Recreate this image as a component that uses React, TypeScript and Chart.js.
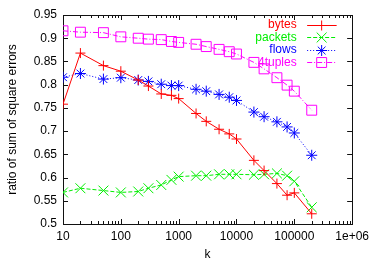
import React, { useEffect, useRef } from "react";
import { Chart, registerables } from "chart.js";
import { drawPoint } from "chart.js/helpers";

Chart.register(...registerables);

const kValues = [10, 20, 50, 100, 200, 300, 500, 750, 1000, 2000, 3000, 5000, 7500, 10000, 20000, 30000, 50000, 75000, 100000, 200000];
const bytes = [0.758, 0.868, 0.841, 0.829, 0.81, 0.797, 0.78, 0.777, 0.77, 0.738, 0.721, 0.704, 0.694, 0.683, 0.637, 0.615, 0.587, 0.562, 0.567, 0.522];
const packets = [0.568, 0.577, 0.572, 0.568, 0.57, 0.577, 0.584, 0.595, 0.602, 0.604, 0.604, 0.607, 0.607, 0.607, 0.606, 0.607, 0.609, 0.604, 0.592, 0.536];
const flows = [0.816, 0.824, 0.812, 0.815, 0.81, 0.807, 0.801, 0.798, 0.798, 0.79, 0.786, 0.779, 0.773, 0.766, 0.741, 0.731, 0.72, 0.709, 0.696, 0.648];
const tuples4 = [0.916, 0.913, 0.912, 0.903, 0.9, 0.898, 0.897, 0.893, 0.891, 0.887, 0.882, 0.876, 0.871, 0.866, 0.848, 0.834, 0.815, 0.799, 0.786, 0.745];

const seriesNames = ["bytes", "packets", "flows", "4tuples"];
const xTickValues = [10, 100, 1000, 10000, 100000, 1000000];
const xTickLabels = ["10", "100", "1000", "10000", "100000", "1e+06"];

const FONT = "'Liberation Sans', Arial, sans-serif";

const styles = [
  { color: "#ff0000", dash: [] as number[], pointStyle: "cross", radius: 5 },
  { color: "#00ee00", dash: [4, 2], pointStyle: "crossRot", radius: 7 },
  { color: "#0000ff", dash: [1, 2], pointStyle: "star", radius: 5.5 },
  { color: "#ff00ff", dash: [5, 2, 1, 2], pointStyle: "rect", radius: 7 },
];

const framePlugin = {
  id: "gnuFrame",
  beforeDatasetsDraw(chart: any) {
    const { ctx, chartArea, scales } = chart;
    const { left, right, top, bottom } = chartArea;
    const x = scales.x;
    const y = scales.y;
    ctx.save();
    ctx.strokeStyle = "#111";
    ctx.lineWidth = 1;
    ctx.beginPath();
    for (let d = 10; d < 1e6; d *= 10) {
      for (let m = 1; m <= 9; m++) {
        const v = d * m;
        const px = Math.round(x.getPixelForValue(v)) + 0.5;
        const len = m === 1 ? 5 : 3;
        ctx.moveTo(px, bottom);
        ctx.lineTo(px, bottom - len);
        ctx.moveTo(px, top);
        ctx.lineTo(px, top + len);
      }
    }
    y.ticks.forEach((t: any) => {
      const py = Math.round(y.getPixelForValue(t.value)) + 0.5;
      ctx.moveTo(left, py);
      ctx.lineTo(left + 5, py);
      ctx.moveTo(right, py);
      ctx.lineTo(right - 5, py);
    });
    ctx.stroke();
    ctx.strokeRect(Math.round(left) + 0.5, Math.round(top) + 0.5, Math.round(right - left), Math.round(bottom - top));
    ctx.restore();
  },
};

const legendPlugin = {
  id: "gnuLegend",
  afterDatasetsDraw(chart: any) {
    const { ctx, chartArea } = chart;
    const { right, top } = chartArea;
    ctx.save();
    ctx.font = `12px ${FONT}`;
    ctx.textAlign = "right";
    ctx.textBaseline = "middle";
    chart.data.datasets.forEach((ds: any, i: number) => {
      const st = styles[i];
      const yy = top + 9.6 + i * 12.6;
      ctx.fillStyle = st.color;
      ctx.fillText(ds.label, right - 55.5, yy);
      ctx.strokeStyle = st.color;
      ctx.lineWidth = 1;
      ctx.setLineDash(st.dash);
      ctx.beginPath();
      ctx.moveTo(right - 45, Math.round(yy) + 0.5);
      ctx.lineTo(right - 15.5, Math.round(yy) + 0.5);
      ctx.stroke();
      ctx.setLineDash([]);
      ctx.fillStyle = "rgba(0,0,0,0)";
      drawPoint(ctx, { pointStyle: st.pointStyle, radius: st.radius, rotation: 0, borderWidth: 1 } as any, right - 30.5, Math.round(yy) + 0.5);
    });
    ctx.restore();
  },
};

export default function App() {
  const canvasRef = useRef<HTMLCanvasElement | null>(null);

  useEffect(() => {
    const canvas = canvasRef.current;
    if (!canvas) return;
    Chart.defaults.font.family = FONT;
    Chart.defaults.font.size = 12;
    Chart.defaults.color = "#000";
    const seriesValues = [bytes, packets, flows, tuples4];
    const chart = new Chart(canvas, {
      type: "line",
      data: {
        datasets: seriesValues.map((vals, i) => ({
          label: seriesNames[i],
          data: kValues.map((k, j) => ({ x: k, y: vals[j] })),
          borderColor: styles[i].color,
          backgroundColor: "rgba(0,0,0,0)",
          borderWidth: 1,
          borderDash: styles[i].dash,
          pointStyle: styles[i].pointStyle as any,
          pointRadius: styles[i].radius,
          pointBorderWidth: 1,
          pointBorderColor: styles[i].color,
          pointBackgroundColor: "rgba(0,0,0,0)",
          tension: 0,
          fill: false,
        })),
      },
      options: {
        animation: false,
        responsive: false,
        maintainAspectRatio: false,
        layout: { padding: { top: 15, right: 21, left: 0, bottom: 0 } },
        plugins: { legend: { display: false }, tooltip: { enabled: false } },
        scales: {
          x: {
            type: "logarithmic",
            min: 10,
            max: 1000000,
            grid: { display: false, drawTicks: false },
            border: { display: false },
            afterBuildTicks: (scale: any) => {
              scale.ticks = xTickValues.map((v) => ({ value: v }));
            },
            afterFit: (scale: any) => {
              scale.height = 38;
            },
            ticks: {
              autoSkip: false,
              maxRotation: 0,
              padding: 5,
              callback: (_v: any, idx: number) => xTickLabels[idx],
            },
            title: { display: true, text: "k", padding: { top: 0, bottom: 0 }, font: { size: 12 } },
          },
          y: {
            type: "linear",
            min: 0.5,
            max: 0.95,
            grid: { display: false, drawTicks: false },
            border: { display: false },
            afterFit: (scale: any) => {
              scale.width = 63;
            },
            ticks: {
              stepSize: 0.05,
              padding: 6,
              callback: (v: any) => String(parseFloat(Number(v).toFixed(2))),
            },
            title: { display: true, text: "ratio of sum of square errors", padding: { top: 5.5, bottom: 0 }, font: { size: 12 } },
          },
        },
      },
      plugins: [framePlugin, legendPlugin],
    });
    return () => chart.destroy();
  }, []);

  return (
    <div style={{ position: "fixed", left: 0, top: 0, width: 374, height: 262, background: "#fff" }}>
      <canvas ref={canvasRef} width={374} height={262} style={{ width: 374, height: 262, display: "block" }} />
    </div>
  );
}
